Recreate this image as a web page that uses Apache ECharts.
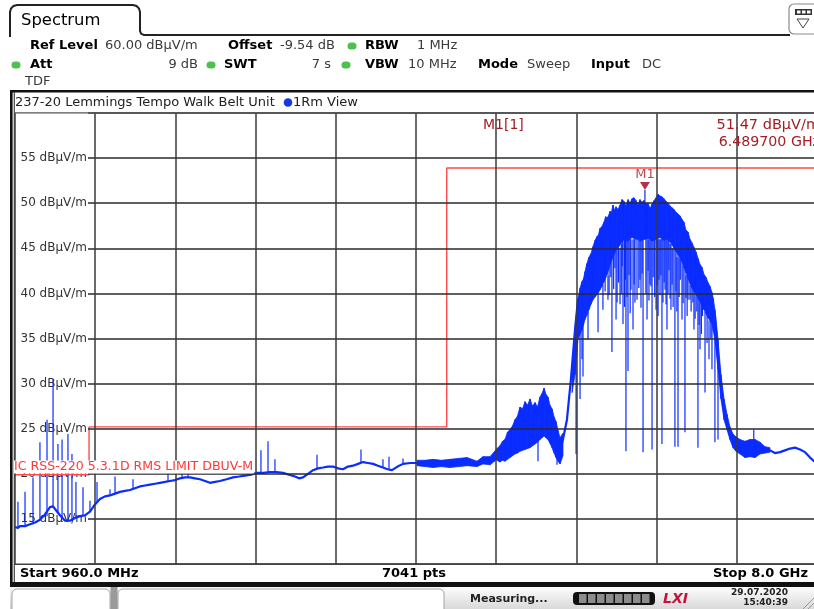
<!DOCTYPE html>
<html><head><meta charset="utf-8">
<script src="https://cdn.jsdelivr.net/npm/echarts@6/dist/echarts.min.js"></script>
<style>html,body{margin:0;padding:0;background:#fff}#c{width:814px;height:609px}</style>
</head><body><div id="c"></div><script>
// ---------- data (MHz, dBµV/m) ----------
const START_MHZ = 960, STOP_MHZ = 8000, DIV_MHZ = 704;
const Y_MIN = 10, Y_MAX = 60, Y_STEP = 5;
const yTickLabels = [15, 20, 25, 30, 35, 40, 45, 50, 55];

const traceMain = [[960,14.1],[986,14.0],[1004,14.2],[1048,14.2],[1092,14.4],[1136,14.6],[1179,14.9],[1223,15.5],[1267,16.3],[1294,16.4],[1311,16.1],[1355,15.4],[1399,14.8],[1443,14.8],[1487,15.1],[1531,15.3],[1574,15.4],[1618,15.8],[1662,16.6],[1706,17.2],[1750,17.5],[1794,17.6],[1838,17.8],[1882,18.0],[1925,18.1],[1969,18.2],[2013,18.4],[2057,18.6],[2101,18.7],[2145,18.8],[2189,18.9],[2233,19.0],[2277,19.1],[2320,19.2],[2364,19.3],[2408,19.5],[2452,19.6],[2496,19.6],[2540,19.5],[2584,19.4],[2628,19.2],[2672,19.0],[2716,19.1],[2759,19.2],[2817,19.4],[2874,19.6],[2927,19.7],[2979,19.8],[3032,19.9],[3084,20.1],[3141,20.1],[3198,20.2],[3255,20.2],[3313,20.1],[3365,19.9],[3418,19.7],[3453,19.5],[3488,19.6],[3532,20.0],[3576,20.4],[3620,20.6],[3664,20.7],[3707,20.8],[3751,20.8],[3795,20.6],[3839,20.5],[3883,20.8],[3927,20.9],[3971,21.1],[4015,21.3],[4059,21.2],[4103,21.1],[4146,20.9],[4190,20.7],[4230,20.5],[4269,20.4],[4318,20.8],[4366,21.1],[4428,21.2],[4489,21.2],[4559,21.1],[4629,21.1],[4703,21.1],[4778,21.1],[4853,21.2],[4928,21.3],[4972,21.1],[5015,21.0],[5068,21.5],[5100,21.3],[5130,21.3],[5160,21.6],[5191,22.2],[5226,22.5],[5261,22.7],[5305,23.1],[5349,23.8],[5393,24.6],[5437,25.5],[5481,26.3],[5525,26.6],[5568,27.4],[5604,28.8],[5639,27.2],[5674,25.8],[5718,23.8],[5744,22.5],[5770,23.8],[5805,26.0],[5840,30.5],[5876,36.0],[5902,39.3],[5937,40.0],[6034,43.0],[6157,46.5],[6271,48.0],[6411,48.5],[6552,48.5],[6692,48.5],[6815,47.0],[6938,43.0],[7043,40.0],[7104,37.5],[7131,33.0],[7157,30.0],[7184,27.0],[7210,25.5],[7236,24.3],[7263,23.6],[7289,23.2],[7324,23.0],[7368,22.8],[7412,22.8],[7456,22.8],[7500,22.9],[7544,22.7],[7587,22.6],[7631,22.3],[7675,22.4],[7719,22.6],[7763,22.8],[7807,22.9],[7851,22.7],[7895,22.4],[7939,21.8],[7974,21.4],[8000,21.2]];

// envelope bands: [MHz, low dB, high dB]
const bandNoise = [[4489,20.9,21.5],[4559,20.8,21.5],[4629,20.7,21.6],[4703,20.8,21.5],[4778,20.7,21.6],[4853,20.8,21.7],[4928,20.9,21.8],[5015,20.8,21.4],[5068,21.1,21.9],[5130,21.0,21.9],[5191,21.6,22.8]];
const bandHump = [[5191,21.5,22.8],[5217,21.3,23.1],[5239,21.5,23.6],[5261,21.4,23.8],[5283,21.6,24.6],[5305,21.8,24.9],[5327,22.0,25.3],[5349,22.2,26.0],[5371,22.3,26.4],[5393,22.5,27.4],[5415,22.6,27.2],[5437,22.7,28.0],[5459,22.8,27.6],[5481,22.9,28.3],[5503,23.1,27.5],[5525,23.3,27.9],[5546,23.5,27.4],[5568,23.8,28.5],[5586,24.0,28.9],[5604,24.2,29.5],[5621,24.0,28.8],[5639,23.8,28.5],[5656,23.4,27.6],[5674,22.9,27.2],[5692,22.3,26.3],[5709,21.8,25.8],[5727,21.4,24.8],[5744,21.1,24.0],[5770,22.0,24.5]];
const bandMain = [[5850,29.0,32.0],[5876,31.0,36.0],[5890,33.0,38.0],[5902,34.9,39.3],[5920,35.5,40.6],[5937,36.0,41.3],[5950,36.5,41.6],[5963,37.1,42.4],[5980,37.6,43.3],[5998,38.2,44.0],[6016,38.8,44.4],[6034,39.3,45.2],[6052,39.6,45.9],[6069,39.9,46.3],[6082,40.1,46.5],[6095,40.4,47.2],[6112,40.8,47.4],[6130,41.3,47.9],[6144,41.7,48.5],[6157,42.1,48.4],[6170,42.6,48.6],[6183,43.2,49.1],[6196,43.6,49.0],[6209,44.0,49.8],[6222,44.4,49.2],[6236,44.8,49.6],[6253,45.0,49.3],[6271,45.4,49.8],[6288,45.7,50.4],[6306,46.0,50.2],[6323,45.9,49.7],[6341,45.8,50.4],[6358,46.0,50.0],[6376,46.2,50.5],[6393,46.1,50.6],[6411,46.0,50.3],[6428,46.0,49.8],[6446,45.8,50.4],[6463,45.9,50.1],[6481,46.0,50.3],[6499,46.0,49.9],[6517,46.1,50.0],[6534,46.0,49.4],[6552,45.8,49.9],[6570,45.9,50.3],[6587,46.0,50.6],[6604,46.1,51.0],[6622,46.2,50.8],[6640,46.0,50.7],[6657,45.9,50.5],[6675,46.0,50.2],[6692,46.0,50.0],[6710,45.7,49.7],[6727,45.4,49.5],[6745,45.0,49.3],[6762,44.6,49.0],[6780,44.3,48.8],[6797,44.0,48.6],[6815,43.5,48.2],[6832,42.9,47.9],[6850,42.3,47.0],[6868,41.7,46.8],[6885,41.1,46.0],[6903,40.6,45.6],[6920,40.2,45.1],[6938,39.9,44.6],[6955,39.5,43.9],[6973,39.1,43.2],[6990,38.6,42.9],[7008,38.2,42.1],[7025,37.8,41.8],[7043,37.3,41.2],[7060,37.0,40.8],[7078,36.6,40.1],[7090,35.8,39.4],[7104,34.9,38.2],[7131,31.6,34.9],[7157,28.3,31.0],[7184,26.0,28.3],[7210,24.9,26.6],[7236,23.8,25.2],[7263,22.9,24.4],[7289,22.5,24.1],[7324,22.2,23.8],[7368,21.8,23.6],[7412,21.9,23.8],[7456,21.8,23.8],[7500,22.2,23.5],[7544,22.3,23.0],[7587,22.4,22.9]];

// single-sweep spikes: [MHz, low dB, high dB]
const spikes = [[986,14.1,16.9],[1048,14.2,18.0],[1118,14.4,19.6],[1179,14.9,23.5],[1241,15.3,26.0],[1294,16.2,30.5],[1337,15.7,23.3],[1373,15.2,23.8],[1425,14.8,24.4],[1460,14.8,22.2],[1495,15.1,19.1],[1557,15.3,18.5],[1618,15.8,17.0],[1680,16.9,19.1],[1794,17.6,18.3],[1838,17.8,19.7],[1996,18.3,19.4],[2303,19.1,20.0],[2426,19.5,20.0],[2479,19.6,20.5],
[3119,20.1,22.6],[3181,20.2,23.6],[3242,20.2,21.6],[3611,20.5,22.1],[3997,21.2,22.7],[4190,20.7,21.6],[4243,20.5,21.9],[4366,21.1,21.7],
[5551,21.4,24.0],[5718,21.0,23.0],
[5885,22.2,34.0],[5920,28.3,36.0],[5937,32.7,37.0],[5946,30.8,37.0],[5990,34.9,38.0],[6078,35.7,40.0],[6121,38.2,41.0],[6165,39.3,42.0],[6200,33.5,44.0],[6236,37.1,45.0],[6271,38.8,45.0],[6297,36.6,46.0],[6323,22.5,46.0],[6341,31.4,46.0],[6367,40.4,46.0],[6385,36.0,46.0],[6420,39.3,46.0],[6446,41.5,46.0],[6473,22.4,46.0],[6489.7,46.0,51.47],[6508,37.1,46.0],[6534,41.0,46.0],[6552,22.7,46.0],[6587,38.2,46.0],[6613,41.5,46.0],[6639,23.3,46.0],[6666,40.4,46.0],[6683,36.0,46.0],[6718,38.2,45.5],[6753,23.0,45.0],[6780,23.0,44.5],[6815,37.1,44.0],[6841,24.6,43.0],[6868,39.3,42.0],[6885,39.3,41.0],[6920,36.0,40.5],[6955,22.9,39.5],[6973,33.8,39.0],[7017,29.0,38.0],[7052,32.7,37.0],[7078,31.6,36.6],[7104,23.5,35.0],[7131,23.8,32.0],[7445,22.5,24.9],
[6105,41.0,44.0],[6140,40.2,44.0],[6150,42.5,44.0],[6175,39.8,44.0],[6190,41.8,44.0],[6215,40.5,44.5],[6226,42.8,45.0],[6245,39.0,45.0],[6258,41.2,45.0],[6282,40.0,45.5],[6290,43.0,46.0],[6310,38.5,46.0],[6318,41.5,46.0],[6332,39.6,46.0],[6350,42.0,46.0],[6360,37.8,46.0],[6395,41.0,46.0],[6402,39.0,46.0],[6436,40.6,46.0],[6455,38.4,46.0],[6465,42.2,46.0],[6498,40.0,46.0],[6517,42.5,46.0],[6525,39.2,46.0],[6543,40.8,46.0],[6562,41.8,46.0],[6575,39.6,46.0],[6596,40.9,46.0],[6605,37.5,46.0],[6622,39.8,46.0],[6630,42.0,46.0],[6648,39.0,46.0],[6658,41.2,46.0],[6675,38.8,46.0],[6692,40.0,46.0],[6700,42.6,46.0],[6710,39.4,45.5],[6728,41.0,45.0],[6737,38.5,45.0],[6762,40.2,44.5],[6770,38.0,44.0],[6790,39.6,44.0],[6800,41.5,44.0],[6825,38.9,43.0],[6850,39.5,42.0],[6860,37.5,42.0],[6895,38.0,41.0],[6910,39.0,41.0],[6930,37.2,40.0],[6945,38.0,40.0],[6965,36.5,39.5],[6985,35.5,39.0],[6995,37.5,39.0],[7035,34.5,38.0],[7068,35.0,37.0]];

const limitLine = [[960,19.9],[1610,19.9],[1610,25.2],[4750,25.2],[4750,53.9],[8000,53.9]];
const limitName = 'IC RSS-220 5.3.1D RMS LIMIT DBUV-M';
const marker = { name: 'M1', freqMHz: 6489.7, level: 51.47 };

// ---------- chart ----------
const BLUE = '#0a2cff', RED = '#ff4a4a', DRED = '#a51d24';
const FONT = 'DejaVu Sans';
const toX = f => f - START_MHZ;

function bandSeries(name, arr) {
  const d = arr.map(p => [toX(p[0]), p[1], p[2]]);
  return {
    name, type: 'custom', xAxisIndex: 0, yAxisIndex: 0, z: 3, clip: true, silent: true,
    encode: { x: 0, y: [1, 2] }, data: d,
    renderItem(params, api) {
      const i = params.dataIndex;
      if (i >= d.length - 1) return;
      const n = d[i + 1];
      const pts = [api.coord([api.value(0), api.value(2)]), api.coord([n[0], n[2]]),
                   api.coord([n[0], n[1]]), api.coord([api.value(0), api.value(1)])];
      return { type: 'polygon', shape: { points: pts }, style: { fill: BLUE, stroke: BLUE, lineWidth: 0.8 } };
    }
  };
}

function T(x, y, text, o = {}) {
  const st = { text, fill: o.fill || '#000', fontSize: o.size || 13, fontWeight: o.bold ? 'bold' : 'normal',
      fontStyle: o.italic ? 'italic' : 'normal', fontFamily: FONT, align: o.align || 'left', verticalAlign: 'middle' };
  if (o.bg) { st.backgroundColor = o.bg; st.padding = o.pad || 0; }
  return { type: 'text', x, y, z: 100, silent: true, style: st };
}
const rect = (x, y, w, h, st, r) => ({ type: 'rect', z: 100, silent: true, shape: { x, y, width: w, height: h, r: r || 0 }, style: st });
const dot = (cx, cy, c) => rect(cx - 4.5, cy - 3.5, 9, 7, { fill: c || '#4fbf4f' }, 3.5);
const line = (x1, y1, x2, y2, st) => ({ type: 'line', z: 100, silent: true, shape: { x1, y1, x2, y2 }, style: st });

const greyGrad = { type: 'linear', x: 0, y: 0, x2: 0, y2: 1, colorStops: [{ offset: 0, color: '#f7f7f7' }, { offset: 1, color: '#cfcfcf' }] };

const graphics = [
  // tab + header
  { type: 'polyline', z: 100, silent: true, shape: { points: [[10,37],[10,12],[11,8.5],[13.5,6],[17,5],[133,5],[136.5,6],[139,8.5],[140,12],[140,31],[141.2,33.8],[144,35],[790,35]] }, style: { stroke: '#222', lineWidth: 2, fill: null } },
  T(21, 21, 'Spectrum', { size: 16.4 }),
  rect(789, 4, 32, 30, { fill: '#fff', stroke: '#8a8a8a', lineWidth: 1.2 }, 5),
  rect(795, 9, 17, 6, { fill: '#333' }), rect(797, 10.5, 3.5, 3, { fill: '#fff' }), rect(802, 10.5, 3.5, 3, { fill: '#fff' }), rect(807, 10.5, 3.5, 3, { fill: '#fff' }),
  { type: 'polygon', z: 100, silent: true, shape: { points: [[797, 19], [809, 19], [803, 28]] }, style: { fill: '#fff', stroke: '#444', lineWidth: 1 } },
  T(30, 46, 'Ref Level', { bold: true }), T(105, 46, '60.00 dBµV/m', { fill: '#3a3a3a' }),
  T(228, 46, 'Offset', { bold: true }), T(280, 46, '-9.54 dB', { fill: '#3a3a3a' }), dot(352, 46),
  T(365, 46, 'RBW', { bold: true }), T(417, 46, '1 MHz', { fill: '#3a3a3a' }),
  dot(16, 65), T(30, 65, 'Att', { bold: true }), T(198, 65, '9 dB', { fill: '#3a3a3a', align: 'right' }), dot(211, 65),
  T(224, 65, 'SWT', { bold: true }), T(331, 65, '7 s', { fill: '#3a3a3a', align: 'right' }), dot(346, 65),
  T(365, 65, 'VBW', { bold: true }), T(408, 65, '10 MHz', { fill: '#3a3a3a' }),
  T(478, 65, 'Mode', { bold: true }), T(527, 65, 'Sweep', { fill: '#3a3a3a' }),
  T(591, 65, 'Input', { bold: true }), T(642, 65, 'DC', { fill: '#3a3a3a' }),
  T(25, 82, 'TDF', { fill: '#3a3a3a' }),
  // window frame
  rect(10, 90, 810, 2.5, { fill: '#111' }),
  rect(10, 90, 2.6, 497, { fill: '#111' }),
  line(14.3, 92, 14.3, 582, { stroke: '#444', lineWidth: 1.2 }),
  line(14, 112.8, 820, 112.8, { stroke: '#555', lineWidth: 1.2 }),
  line(14, 564.2, 820, 564.2, { stroke: '#444', lineWidth: 1.4 }),
  T(15, 102.5, '237-20 Lemmings Tempo Walk Belt Unit', { fill: '#222' }),
  { type: 'circle', z: 100, silent: true, shape: { cx: 288, cy: 102.5, r: 4.3 }, style: { fill: '#1637e6' } },
  T(293, 102.5, '1Rm View', { fill: '#222' }),
  // marker readout
  T(483, 125, 'M1[1]', { fill: DRED, size: 14 }),
  T(820, 125, '51.47 dBµV/m', { fill: DRED, size: 14.5, align: 'right' }),
  T(820, 142, '6.489700 GHz', { fill: DRED, size: 14.2, align: 'right' }),
  // limit label
  T(14, 467, limitName, { fill: '#ff3838', size: 12.6, bg: '#fff', pad: [0, 1, 0, 0] }),
  // bottom info row
  T(20, 574, 'Start 960.0 MHz', { bold: true }),
  T(414, 574, '7041 pts', { bold: true, align: 'center' }),
  T(808, 574, 'Stop 8.0 GHz', { bold: true, align: 'right' }),
  rect(10, 582, 810, 5, { fill: '#111' }),
  // status bar
  rect(10, 587, 810, 22, { fill: greyGrad }),
  rect(12, 589, 98, 26, { fill: '#fff', stroke: '#a8a8a8', lineWidth: 1 }, 5),
  rect(118, 589, 326, 26, { fill: '#fff', stroke: '#a8a8a8', lineWidth: 1 }, 5),
  rect(110.5, 587, 7, 22, { fill: '#9a9a9a' }),
  rect(445, 587, 375, 22, { fill: { type: 'linear', x: 0, y: 0, x2: 0, y2: 1, colorStops: [{ offset: 0, color: '#fdfdfd' }, { offset: 1, color: '#d9d9d9' }] } }),
  T(470, 599, 'Measuring...', { bold: true, size: 11, fill: '#222' }),
  rect(573, 592, 82, 13, { fill: '#111' }, 4),
  ...[0, 1, 2, 3, 4, 5, 6, 7].map(k => rect(579 + k * 9, 594, 7.5, 9, { fill: '#8c8c8c' })),
  T(663, 599, 'LXI', { bold: true, italic: true, size: 14, fill: '#c0143a' }),
  T(788, 593, '29.07.2020', { bold: true, size: 9, align: 'right', fill: '#222' }),
  T(788, 603, '15:40:39', { bold: true, size: 9, align: 'right', fill: '#222' }),
  line(803, 609, 814, 598, { stroke: '#999', lineWidth: 1 }),
  line(808, 609, 814, 603, { stroke: '#999', lineWidth: 1 })
];

const chart = echarts.init(document.getElementById('c'), null, { renderer: 'canvas' });
chart.setOption({
  animation: false,
  backgroundColor: '#fff',
  grid: [
    { left: 15, top: 113, width: 802, height: 451, outerBoundsMode: 'none', containLabel: false },
    { left: 88, top: 113, width: 729, height: 451, outerBoundsMode: 'none', containLabel: false }
  ],
  xAxis: [
    { type: 'value', gridIndex: 0, min: 0, max: STOP_MHZ - START_MHZ, interval: DIV_MHZ, z: 10,
      axisLine: { show: false }, axisTick: { show: false }, axisLabel: { show: false },
      splitLine: { show: true, lineStyle: { color: '#3a3a3a', width: 1.5 } } },
    { type: 'value', gridIndex: 1, min: 0, max: 1, show: false }
  ],
  yAxis: [
    { type: 'value', gridIndex: 0, min: Y_MIN, max: Y_MAX, interval: Y_STEP,
      axisLine: { show: false }, axisTick: { show: false }, axisLabel: { show: false }, splitLine: { show: false } },
    { type: 'value', gridIndex: 1, min: Y_MIN, max: Y_MAX, interval: Y_STEP, z: 1,
      axisLine: { show: false }, axisTick: { show: false }, splitLine: { show: false },
      axisLabel: { margin: 1, fontSize: 12, fontFamily: FONT, color: '#333',
        formatter: v => yTickLabels.includes(v) ? v + ' dBµV/m' : '' } },
    { type: 'value', gridIndex: 1, min: Y_MIN, max: Y_MAX, interval: Y_STEP, z: 10,
      axisLine: { show: false }, axisTick: { show: false }, axisLabel: { show: false },
      splitLine: { show: true, lineStyle: { color: '#2a2a2a', width: 1.5 } } }
  ],
  series: [
    bandSeries('noise', bandNoise),
    bandSeries('hump', bandHump),
    bandSeries('band', bandMain),
    { name: 'spikes', type: 'custom', xAxisIndex: 0, yAxisIndex: 0, z: 3, clip: true, silent: true,
      encode: { x: 0, y: [1, 2] }, data: spikes.map(p => [toX(p[0]), p[1], p[2]]),
      renderItem(params, api) {
        const a = api.coord([api.value(0), api.value(1)]);
        const b = api.coord([api.value(0), api.value(2)]);
        return { type: 'line', shape: { x1: a[0], y1: a[1], x2: b[0], y2: b[1] }, style: { stroke: BLUE, lineWidth: 1.2 } };
      } },
    { name: '1Rm View', type: 'line', xAxisIndex: 0, yAxisIndex: 0, z: 4, showSymbol: false, silent: true,
      data: traceMain.map(p => [toX(p[0]), p[1]]), lineStyle: { color: BLUE, width: 2.2 }, itemStyle: { color: BLUE } },
    { name: limitName, type: 'line', xAxisIndex: 0, yAxisIndex: 0, z: 5, showSymbol: false, silent: true,
      data: limitLine.map(p => [toX(p[0]), p[1]]), lineStyle: { color: RED, width: 1.4 } },
    { name: marker.name, type: 'scatter', xAxisIndex: 0, yAxisIndex: 0, z: 20, silent: true,
      data: [[toX(marker.freqMHz), marker.level]], symbol: 'triangle', symbolSize: [10, 8], symbolRotate: 180,
      symbolOffset: [0, -4], itemStyle: { color: '#a0001a' },
      label: { show: true, position: 'top', distance: 1, formatter: marker.name, color: DRED, fontSize: 13, fontFamily: FONT } }
  ],
  graphic: graphics
});
</script></body></html>
